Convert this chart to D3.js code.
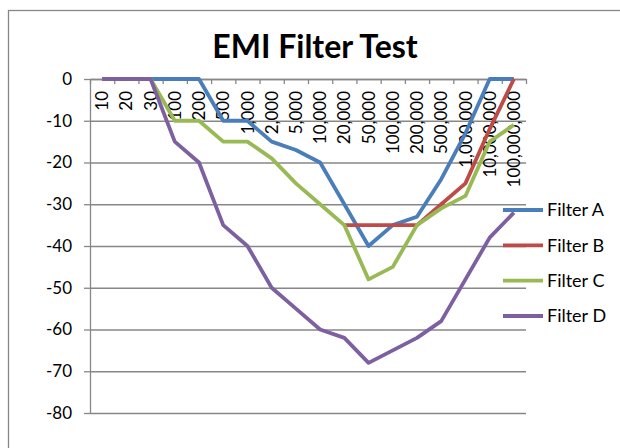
<!DOCTYPE html>
<html>
<head>
<meta charset="utf-8">
<script src="https://cdn.jsdelivr.net/npm/d3@7"></script>
<style>
    body { margin: 0; background: #fff; }
    svg { font-family: Lato, "Open Sans", sans-serif; }
</style>
</head>
<body>
<svg id="svg-main" width="620" height="448"></svg>
<script>
var categories = ["10", "20", "30", "100", "200", "500", "1,000", "2,000", "5,000", "10,000",
    "20,000", "50,000", "100,000", "200,000", "500,000", "1,000,000", "10,000,000", "100,000,000"];
var filterA = [0, 0, 0, 0, 0, -10, -10, -15, -17, -20, -30, -40, -35, -33, -24, -13, 0, 0];
var filterB = [null, null, null, null, null, null, null, null, null, null, -35, -35, -35, -35, -30, -25, -12, 0];
var filterC = [0, 0, 0, -10, -10, -15, -15, -19, -25, -30, -35, -48, -45, -35, -31, -28, -15, -11];
var filterD = [0, 0, 0, -15, -20, -35, -40, -50, -55, -60, -62, -68, -65, -62, -58, -48, -38, -32];
var seriesNames = ["Filter A", "Filter B", "Filter C", "Filter D"];
var seriesColors = ["#4a7ebb", "#be4b48", "#98b954", "#7d60a0"];
var yTicks = [0, -10, -20, -30, -40, -50, -60, -70, -80];

var series = [filterA, filterB, filterC, filterD].map(function (vals, i) {
    return {name: seriesNames[i], color: seriesColors[i], values: vals};
});

var svg = d3.select("svg"),
    plotL = 90, plotR = 526, plotT = 79, plotB = 413;
var gridColor = "#878787";

// chart frame
svg.append("rect")
    .attr("x", 8.5).attr("y", 10.5)
    .attr("width", 700).attr("height", 500)
    .attr("fill", "none").attr("stroke", gridColor).attr("stroke-width", 1.3);

var x = d3.scalePoint().domain(categories).range([plotL, plotR]).padding(0.5);
var xEdge = d3.scaleLinear().domain([0, categories.length]).range([plotL, plotR]);
var y = d3.scaleLinear().domain([-80, 0]).range([plotB, plotT]);

// gridlines
svg.append("g")
    .attr("transform", "translate(" + plotL + ",0)")
    .call(d3.axisLeft(y).tickValues(yTicks).tickSize(-(plotR - plotL)).tickFormat(""))
    .call(function (g) {
        g.select(".domain").remove();
        g.selectAll("line").attr("stroke", gridColor).attr("stroke-width", 1.3);
    });

// value axis (plain hyphen for negatives, like Excel)
svg.append("g")
    .attr("transform", "translate(" + plotL + ",0)")
    .call(d3.axisLeft(y).tickValues(yTicks).tickSize(6).tickSizeOuter(0).tickPadding(12)
        .tickFormat(function (d) { return String(d); }))
    .call(function (g) {
        g.select(".domain").attr("stroke", gridColor).attr("stroke-width", 1.3);
        g.selectAll("line").attr("stroke", gridColor).attr("stroke-width", 1.3);
        g.selectAll("text").attr("font-size", 17).attr("fill", "#000")
            .attr("font-family", "Lato, sans-serif");
    });

// category axis (sits at 0)
svg.append("g")
    .attr("transform", "translate(0," + plotT + ")")
    .call(d3.axisBottom(xEdge).tickValues(d3.range(0, categories.length + 1)).tickSize(5).tickSizeOuter(0).tickFormat(""))
    .call(function (g) {
        g.select(".domain").attr("stroke", gridColor).attr("stroke-width", 1.3);
        g.selectAll("line").attr("stroke", gridColor).attr("stroke-width", 1.3);
    });

svg.append("g").selectAll("text")
    .data(categories)
    .enter().append("text")
    .attr("transform", function (d) {
        return "translate(" + x(d) + "," + (plotT + 12) + ") rotate(-90)";
    })
    .attr("text-anchor", "end")
    .attr("dy", "0.36em")
    .attr("font-size", 17)
    .text(function (d) { return d; });

// lines
var line = d3.line()
    .defined(function (d) { return d != null; })
    .x(function (d, i) { return x(categories[i]); })
    .y(function (d) { return y(d); });

svg.append("g").selectAll("path")
    .data(series)
    .enter().append("path")
    .attr("fill", "none")
    .attr("stroke", function (d) { return d.color; })
    .attr("stroke-width", 3.8)
    .attr("stroke-linejoin", "round")
    .attr("d", function (d) { return line(d.values); });

// title
svg.append("text")
    .attr("x", 315).attr("y", 58)
    .attr("text-anchor", "middle")
    .attr("font-size", 32)
    .attr("font-weight", "bold")
    .text("EMI Filter Test");

// legend
var legendY = d3.scalePoint().domain(seriesNames).range([210, 316]);
var legend = svg.append("g").selectAll("g")
    .data(series)
    .enter().append("g")
    .attr("transform", function (d) { return "translate(503," + legendY(d.name) + ")"; });
legend.append("line")
    .attr("x1", 0).attr("x2", 40)
    .attr("stroke", function (d) { return d.color; })
    .attr("stroke-width", 3.8);
legend.append("text")
    .attr("x", 44).attr("dy", "0.35em")
    .attr("font-size", 18)
    .text(function (d) { return d.name; });
</script>
</body>
</html>
